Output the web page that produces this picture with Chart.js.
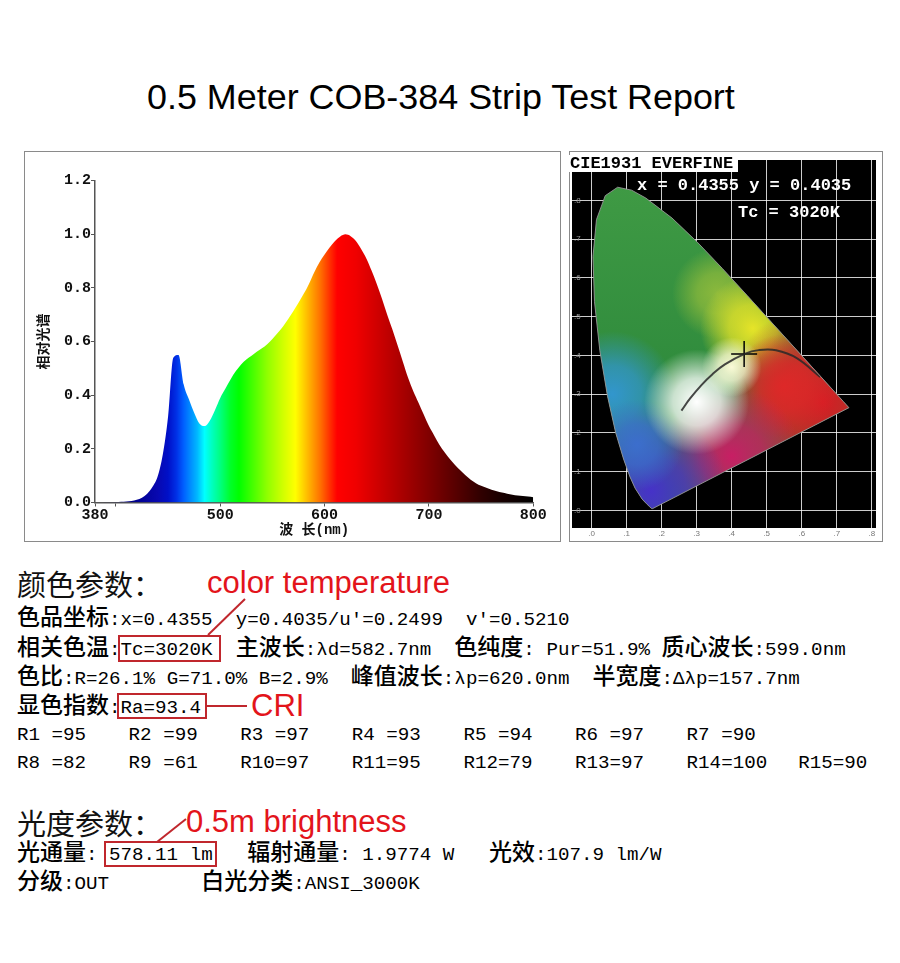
<!DOCTYPE html>
<html>
<head>
<meta charset="utf-8">
<script src="https://cdn.jsdelivr.net/npm/chart.js@4.4.1/dist/chart.umd.min.js"></script>
<style>
  body { margin: 0; background: #fff; width: 900px; height: 963px; position: relative; overflow: hidden; }
  .abs { position: absolute; white-space: pre; }
  .title { left: 147px; top: 75px; font: 35.9px/44px 'Liberation Sans', Arial, sans-serif; color: #000; }
  .frame { position: absolute; border: 1px solid #8a8a8a; box-sizing: border-box; }
  .line { position: absolute; left: 17px; height: 28px; line-height: 28px; white-space: pre;
          font-family: 'Liberation Mono', monospace; font-size: 19.2px; color: #000; }
  .cjk { font-family: 'Noto Sans CJK SC', sans-serif; font-weight: 500; font-size: 23px; }
  .head { position: absolute; left: 17px; height: 40px; line-height: 40px; white-space: pre;
          font-family: 'Noto Sans CJK SC', sans-serif; font-size: 29px; color: #111; }
  .red { position: absolute; white-space: pre; height: 40px; line-height: 40px;
         font-family: 'Liberation Sans', Arial, sans-serif; font-size: 31px; color: #e3141b; }
  .box { position: absolute; border: 2px solid #c0272d; box-sizing: border-box; }
  .cie-label { position: absolute; white-space: pre; font-family: 'Liberation Mono', monospace; font-weight: 700; font-size: 17px; line-height: 18px; }
</style>
</head>
<body>

<div class="abs title">0.5 Meter COB-384 Strip Test Report</div>

<div class="frame" style="left:24px;top:151px;width:537px;height:391px;"></div>
<canvas id="spec" width="535" height="388" style="position:absolute;left:25px;top:152px;width:535px;height:388px;"></canvas>

<div class="frame" style="left:569px;top:151px;width:314px;height:391px;"></div>
<canvas id="cie" width="311" height="388" style="position:absolute;left:570px;top:152px;width:311px;height:388px;"></canvas>
<div class="cie-label" style="left:569px;top:155px;width:168px;height:17px;background:#fff;color:#000;padding-left:1px;">CIE1931 EVERFINE</div>
<div class="cie-label" style="left:637px;top:177px;color:#fff;">x = 0.4355 y = 0.4035</div>
<div class="cie-label" style="left:738px;top:204px;color:#fff;">Tc = 3020K</div>

<div class="head" style="top:563px;">颜色参数：</div>
<div class="red" style="left:207px;top:563px;">color temperature</div>

<div class="line" style="top:601px;"><span class="cjk">色品坐标</span>:x=0.4355  y=0.4035/u'=0.2499  v'=0.5210</div>
<div class="line" style="top:631px;"><span class="cjk">相关色温</span>:Tc=3020K  <span class="cjk">主波长</span>:λd=582.7nm  <span class="cjk">色纯度</span>: Pur=51.9% <span class="cjk">质心波长</span>:599.0nm</div>
<div class="line" style="top:660px;"><span class="cjk">色比</span>:R=26.1% G=71.0% B=2.9%  <span class="cjk">峰值波长</span>:λp=620.0nm  <span class="cjk">半宽度</span>:Δλp=157.7nm</div>
<div class="line" style="top:689px;"><span class="cjk">显色指数</span>:Ra=93.4</div>
<div id="rrow1"></div>
<div id="rrow2"></div>

<div class="red" style="left:251px;top:686px;">CRI</div>
<div class="box" style="left:118px;top:635px;width:103px;height:27px;"></div>
<div class="box" style="left:117px;top:693px;width:90px;height:26px;"></div>

<div class="head" style="top:802px;">光度参数：</div>
<div class="red" style="left:186px;top:802px;">0.5m brightness</div>
<div class="line" style="top:836px;"><span class="cjk">光通量</span>: 578.11 lm   <span class="cjk">辐射通量</span>: 1.9774 W   <span class="cjk">光效</span>:107.9 lm/W</div>
<div class="line" style="top:865px;"><span class="cjk">分级</span>:OUT        <span class="cjk">白光分类</span>:ANSI_3000K</div>
<div class="box" style="left:104px;top:841px;width:113px;height:26px;"></div>

<svg width="900" height="963" style="position:absolute;left:0;top:0;pointer-events:none;">
  <line x1="208" y1="635" x2="245" y2="599" stroke="#c0272d" stroke-width="2"/>
  <line x1="207" y1="706" x2="247" y2="706" stroke="#c0272d" stroke-width="2"/>
  <line x1="157" y1="842" x2="186" y2="819" stroke="#c0272d" stroke-width="2"/>
</svg>

<script>
// spectral power distribution (relative), every 5 nm
const wavelengths = [380,385,390,395,400,405,410,415,420,425,430,435,440,445,450,455,460,465,470,475,
  480,485,490,495,500,505,510,515,520,525,530,535,540,545,550,555,560,565,570,575,
  580,585,590,595,600,605,610,615,620,625,630,635,640,645,650,655,660,665,670,675,
  680,685,690,695,700,705,710,715,720,725,730,735,740,745,750,755,760,765,770,775,
  780,785,790,795,800];
const relIntensity = [0.000,0.000,0.001,0.001,0.002,0.003,0.004,0.006,0.010,0.018,0.033,0.058,0.097,0.180,0.320,0.540,0.550,0.440,0.385,0.335,
  0.295,0.285,0.305,0.345,0.390,0.425,0.460,0.490,0.515,0.533,0.547,0.562,0.575,0.590,0.610,0.632,0.655,0.683,0.713,0.745,
  0.778,0.815,0.858,0.895,0.925,0.952,0.975,0.992,1.000,0.993,0.975,0.945,0.910,0.865,0.815,0.760,0.700,0.645,0.585,0.525,
  0.465,0.415,0.372,0.328,0.285,0.250,0.215,0.187,0.162,0.140,0.120,0.102,0.085,0.072,0.062,0.055,0.048,0.042,0.037,0.033,
  0.029,0.026,0.024,0.022,0.020];
const xTickValues = [380, 400, 500, 600, 700, 800];
const xTickLabels = ['380', '', '500', '600', '700', '800'];

// CIE 1931 spectral locus (x, y) and Planckian locus
const locusNm = [380,420,440,450,460,470,475,480,485,490,495,500,505,510,515,520,525,530,540,550,560,570,580,590,600,610,620,630,640,650,700,380];
const locusX = [0.1741,0.1714,0.1644,0.1566,0.1440,0.1241,0.1096,0.0913,0.0687,0.0454,0.0235,0.0082,0.0039,0.0139,0.0389,0.0743,0.1142,0.1547,0.2296,0.3016,0.3731,0.4441,0.5125,0.5752,0.6270,0.6658,0.6915,0.7079,0.7190,0.7260,0.7347,0.1741];
const locusY = [0.0050,0.0051,0.0109,0.0177,0.0297,0.0578,0.0868,0.1327,0.2007,0.2950,0.4127,0.5384,0.6548,0.7502,0.8120,0.8338,0.8262,0.8059,0.7543,0.6923,0.6245,0.5547,0.4866,0.4242,0.3725,0.3340,0.3083,0.2920,0.2809,0.2740,0.2653,0.0050];
const planckX = [0.6528,0.5857,0.5267,0.4770,0.4369,0.3805,0.3451,0.3135,0.2807,0.2565];
const planckY = [0.3444,0.3931,0.4133,0.4137,0.4041,0.3768,0.3516,0.3236,0.2884,0.2577];
const chromaX = 0.4355;
const chromaY = 0.4035;
const cieTicks = [0, 0.1, 0.2, 0.3, 0.4, 0.5, 0.6, 0.7, 0.8];

const rowOne = ['R1 =95','R2 =99','R3 =97','R4 =93','R5 =94','R6 =97','R7 =90'];
const rowTwo = ['R8 =82','R9 =61','R10=97','R11=95','R12=79','R13=97','R14=100','R15=90'];

// colours along the spectrum (styling only)
const spectrumStops = [
  [380,'#00004a'],[420,'#000090'],[440,'#0808b0'],[450,'#0010c8'],[458,'#0030e6'],[465,'#0060ff'],
  [472,'#0090ff'],[478,'#00b8ff'],[485,'#00ffff'],[492,'#00ffc0'],[500,'#00ff80'],[510,'#00ff28'],
  [518,'#00ff00'],[530,'#40ff00'],[545,'#90ff00'],[560,'#d0ff00'],[572,'#ffff00'],[580,'#ffd000'],
  [588,'#ffa000'],[596,'#ff7000'],[605,'#ff3000'],[612,'#ff0000'],[630,'#f00000'],[650,'#d00000'],
  [670,'#b00000'],[690,'#900000'],[710,'#700000'],[730,'#500000'],[750,'#300000'],[770,'#180000'],[800,'#000000']
];

function fillRows() {
  [[rowOne, 'rrow1', 721], [rowTwo, 'rrow2', 749]].forEach(([items, id, top]) => {
    const holder = document.getElementById(id);
    items.forEach((txt, i) => {
      const d = document.createElement('div');
      d.className = 'line';
      d.style.top = top + 'px';
      d.style.left = (17 + i * 111.6) + 'px';
      d.textContent = txt;
      holder.appendChild(d);
    });
  });
}
fillRows();

function spectrumFill(context) {
  const chart = context.chart;
  const area = chart.chartArea;
  if (!area) return null;
  const xs = chart.scales.x;
  const g = chart.ctx.createLinearGradient(xs.left, 0, xs.right, 0);
  spectrumStops.forEach(([nm, c]) => g.addColorStop((nm - 380) / 420, c));
  return g;
}

const monoBold = { family: "'Liberation Mono', monospace", weight: 'bold', size: 15 };

new Chart(document.getElementById('spec'), {
  type: 'line',
  data: {
    datasets: [{
      data: wavelengths.map((w, i) => ({ x: w, y: relIntensity[i] })),
      fill: 'origin',
      backgroundColor: spectrumFill,
      borderWidth: 0,
      pointRadius: 0,
      cubicInterpolationMode: 'monotone'
    }]
  },
  options: {
    responsive: false,
    animation: false,
    layout: { autoPadding: false, padding: { top: 28.7, right: 26.7, left: 0, bottom: 0 } },
    plugins: { legend: { display: false }, tooltip: { enabled: false } },
    scales: {
      x: {
        type: 'linear', min: 380, max: 800,
        afterBuildTicks: s => { s.ticks = xTickValues.map(v => ({ value: v })); },
        afterFit: s => { s.height = 37.5; },
        ticks: {
          autoSkip: false, maxRotation: 0, padding: 0, color: '#111', font: monoBold,
          callback: (v) => xTickLabels[xTickValues.indexOf(v)]
        },
        grid: { drawOnChartArea: false, drawTicks: true, tickLength: 4, color: '#555' },
        border: { color: '#555', width: 1.5 },
        title: {
          display: true, text: '波 长(nm)', color: '#111', padding: { top: 0, bottom: 1.6 },
          font: { family: "'Liberation Mono', 'Noto Sans CJK SC', monospace", weight: 'bold', size: 14 }
        }
      },
      y: {
        min: 0, max: 1.2,
        afterFit: s => { s.width = 70; },
        ticks: { stepSize: 0.2, padding: 0, color: '#111', font: monoBold, callback: v => v.toFixed(1) },
        grid: { drawOnChartArea: false, drawTicks: true, tickLength: 4, color: '#555' },
        border: { color: '#555', width: 1.5 },
        title: {
          display: true, text: '相对光谱', color: '#111', padding: { top: 9.6, bottom: 0 },
          font: { family: "'Noto Sans CJK SC', sans-serif", weight: 'bold', size: 14 }
        }
      }
    }
  }
});

// CIE chart helpers
const blackBackground = {
  id: 'blackBackground',
  beforeDraw(chart) {
    const { ctx, chartArea: a } = chart;
    ctx.save();
    ctx.fillStyle = '#000';
    ctx.fillRect(a.left, a.top, a.right - a.left, a.bottom - a.top);
    ctx.restore();
  }
};

const locusColours = {
  id: 'locusColours',
  beforeDatasetsDraw(chart) {
    const pts = chart.getDatasetMeta(0).data;
    if (!pts.length) return;
    const { ctx } = chart;
    const xs = chart.scales.x, ys = chart.scales.y;
    const px = v => xs.getPixelForValue(v);
    const py = v => ys.getPixelForValue(v);
    const unit = px(0.1) - px(0);
    ctx.save();
    ctx.beginPath();
    pts.forEach((p, i) => (i ? ctx.lineTo(p.x, p.y) : ctx.moveTo(p.x, p.y)));
    ctx.closePath();
    ctx.clip();
    const base = ctx.createLinearGradient(0, py(0.84), 0, py(0.3));
    base.addColorStop(0, '#3f9a44');
    base.addColorStop(1, '#2e8a3c');
    ctx.fillStyle = base;
    ctx.fillRect(chart.chartArea.left, chart.chartArea.top, chart.chartArea.right - chart.chartArea.left, chart.chartArea.bottom - chart.chartArea.top);
    const blobs = [
      [0.36, 0.56, 1.3, '140,185,60'],
      [0.46, 0.47, 1.5, '230,228,40'],
      [0.66, 0.28, 2.8, '214,28,36'],
      [0.55, 0.32, 1.5, '222,40,40'],
      [0.40, 0.14, 2.0, '200,30,100'],
      [0.17, 0.05, 2.2, '70,50,200'],
      [0.06, 0.30, 1.8, '50,150,205'],
      [0.13, 0.17, 1.3, '60,110,205'],
      [0.30, 0.28, 1.5, '255,255,255'],
      [0.40, 0.37, 0.85, '250,250,215']
    ];
    blobs.forEach(([cx, cy, r, rgb]) => {
      const g = ctx.createRadialGradient(px(cx), py(cy), 0, px(cx), py(cy), r * unit);
      g.addColorStop(0, 'rgba(' + rgb + ',1)');
      g.addColorStop(0.45, 'rgba(' + rgb + ',0.75)');
      g.addColorStop(1, 'rgba(' + rgb + ',0)');
      ctx.fillStyle = g;
      ctx.fillRect(px(cx) - r * unit, py(cy) - r * unit, 2 * r * unit, 2 * r * unit);
    });
    ctx.restore();
  }
};

const smallTick = { family: "'Liberation Sans', sans-serif", size: 8 };

new Chart(document.getElementById('cie'), {
  type: 'scatter',
  data: {
    datasets: [
      {
        data: locusX.map((x, i) => ({ x, y: locusY[i] })),
        showLine: true, borderColor: 'rgba(150,150,150,0.9)', borderWidth: 1, pointRadius: 0, fill: false
      },
      {
        data: planckX.map((x, i) => ({ x, y: planckY[i] })),
        showLine: true, borderColor: 'rgba(40,40,40,0.85)', borderWidth: 2, pointRadius: 0, tension: 0.4
      },
      {
        data: [{ x: chromaX, y: chromaY }],
        pointStyle: 'cross', pointRadius: 13, borderColor: '#000', borderWidth: 1.5
      }
    ]
  },
  options: {
    responsive: false,
    animation: false,
    layout: { autoPadding: false, padding: { top: 8, right: 5, left: 0, bottom: 0 } },
    plugins: { legend: { display: false }, tooltip: { enabled: false } },
    scales: {
      x: {
        type: 'linear', min: -0.056, max: 0.812,
        afterBuildTicks: s => { s.ticks = cieTicks.map(v => ({ value: v })); },
        afterFit: s => { s.height = 12; },
        ticks: { autoSkip: false, maxRotation: 0, padding: 1, color: '#777', font: smallTick, callback: v => '.' + Math.round(v * 10) },
        grid: { color: 'rgba(255,255,255,0.8)', lineWidth: 1, drawTicks: false },
        border: { display: false }
      },
      y: {
        min: -0.045, max: 0.904,
        afterBuildTicks: s => { s.ticks = cieTicks.map(v => ({ value: v })); },
        afterFit: s => { s.width = 2; },
        ticks: { mirror: true, padding: 2, color: '#999', font: smallTick, callback: v => '.' + Math.round(v * 10) },
        grid: { color: 'rgba(255,255,255,0.8)', lineWidth: 1, drawTicks: false },
        border: { display: false }
      }
    }
  },
  plugins: [blackBackground, locusColours]
});
</script>
</body>
</html>
